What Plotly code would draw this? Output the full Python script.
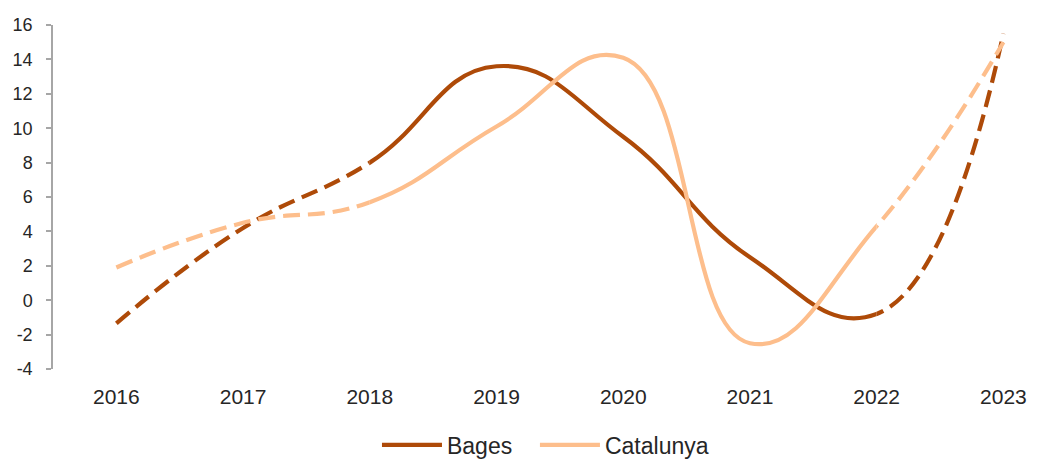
import plotly.graph_objects as go

# ---- data ----
years = ["2016", "2017", "2018", "2019", "2020", "2021", "2022", "2023"]
bages = [-1.35, 4.2, 8.0, 13.6, 9.5, 2.5, -0.8, 15.5]
catalunya = [1.9, 4.5, 5.7, 10.1, 14.1, -2.5, 4.3, 15.0]
y_ticks = [-4, -2, 0, 2, 4, 6, 8, 10, 12, 14, 16]
y_tick_text = [str(v) for v in y_ticks]

# ---- style ----
BAGES_COLOR = "#AE4A08"
CAT_COLOR = "#FDBE8C"
AXIS_COLOR = "#A6A6A6"
TEXT_COLOR = "#262626"
FONT = "Liberation Sans, Arial, sans-serif"
LW = 4.2
DASH = "17px,8px"
SMOOTH = 1.3

x_range = [-0.5, 7.415]
span = x_range[1] - x_range[0]
solid_start, solid_end = 2, 6  # index of first / last category of the solid part
d0 = (solid_start - x_range[0]) / span
d1 = (solid_end - x_range[0]) / span

series = [("Bages", bages, BAGES_COLOR, "legend"),
          ("Catalunya", catalunya, CAT_COLOR, "legend2")]

fig = go.Figure()

# dashed full curves (main subplot)
for name, vals, col, lg in series:
    fig.add_trace(go.Scatter(
        x=years, y=vals, mode="lines", name=name, showlegend=False,
        line=dict(color=col, width=LW, dash=DASH, shape="spline", smoothing=SMOOTH),
        xaxis="x", yaxis="y", hoverinfo="skip"))

# solid curves: same full data, clipped to the 2018-2022 window
for name, vals, col, lg in series:
    fig.add_trace(go.Scatter(
        x=years, y=vals, mode="lines", name=name, showlegend=True, legend=lg,
        line=dict(color=col, width=LW, shape="spline", smoothing=SMOOTH),
        xaxis="x2", yaxis="y"))

legend_common = dict(
    orientation="h", xanchor="left",
    yref="paper", y=-0.221, yanchor="middle",
    font=dict(size=23, color=TEXT_COLOR),
    bgcolor="rgba(0,0,0,0)", itemwidth=60,
)

fig.update_layout(
    width=1048, height=451,
    margin=dict(l=45, r=0, t=17, b=90, autoexpand=False),
    paper_bgcolor="white", plot_bgcolor="white",
    font=dict(family=FONT, color=TEXT_COLOR),
    xaxis=dict(
        type="category", categoryorder="array", categoryarray=years,
        range=x_range, domain=[0, 1], anchor="y", automargin=False,
        showline=False, ticks="", showgrid=False, zeroline=False,
        tickfont=dict(size=21, color=TEXT_COLOR), ticklabelstandoff=13,
    ),
    xaxis2=dict(
        type="category", categoryorder="array", categoryarray=years,
        range=[solid_start, solid_end], domain=[d0, d1], anchor="y",
        visible=False, showgrid=False, zeroline=False, automargin=False,
    ),
    xaxis3=dict(
        overlaying="x", anchor="free", automargin=False,
        position=(0 - y_ticks[0]) / (y_ticks[-1] - y_ticks[0]),
        type="linear", range=x_range,
        showline=True, linecolor=AXIS_COLOR, linewidth=1.5,
        ticks="outside", ticklen=5, tickwidth=1.5, tickcolor=AXIS_COLOR,
        tickvals=[i + 0.5 for i in range(len(years) - 1)],
        showticklabels=False, showgrid=False, zeroline=False,
    ),
    yaxis=dict(
        range=[y_ticks[0], y_ticks[-1]], tickvals=y_ticks, ticktext=y_tick_text,
        showline=True, linecolor=AXIS_COLOR, linewidth=1.5, automargin=False,
        ticks="outside", ticklen=5, tickwidth=1.5, tickcolor=AXIS_COLOR,
        showgrid=False, zeroline=False,
        tickfont=dict(size=18, color=TEXT_COLOR), ticklabelstandoff=10,
    ),
    legend=dict(x=0.323, **legend_common),
    legend2=dict(x=0.4805, **legend_common),
    showlegend=True,
)

fig.write_html("out.html")
